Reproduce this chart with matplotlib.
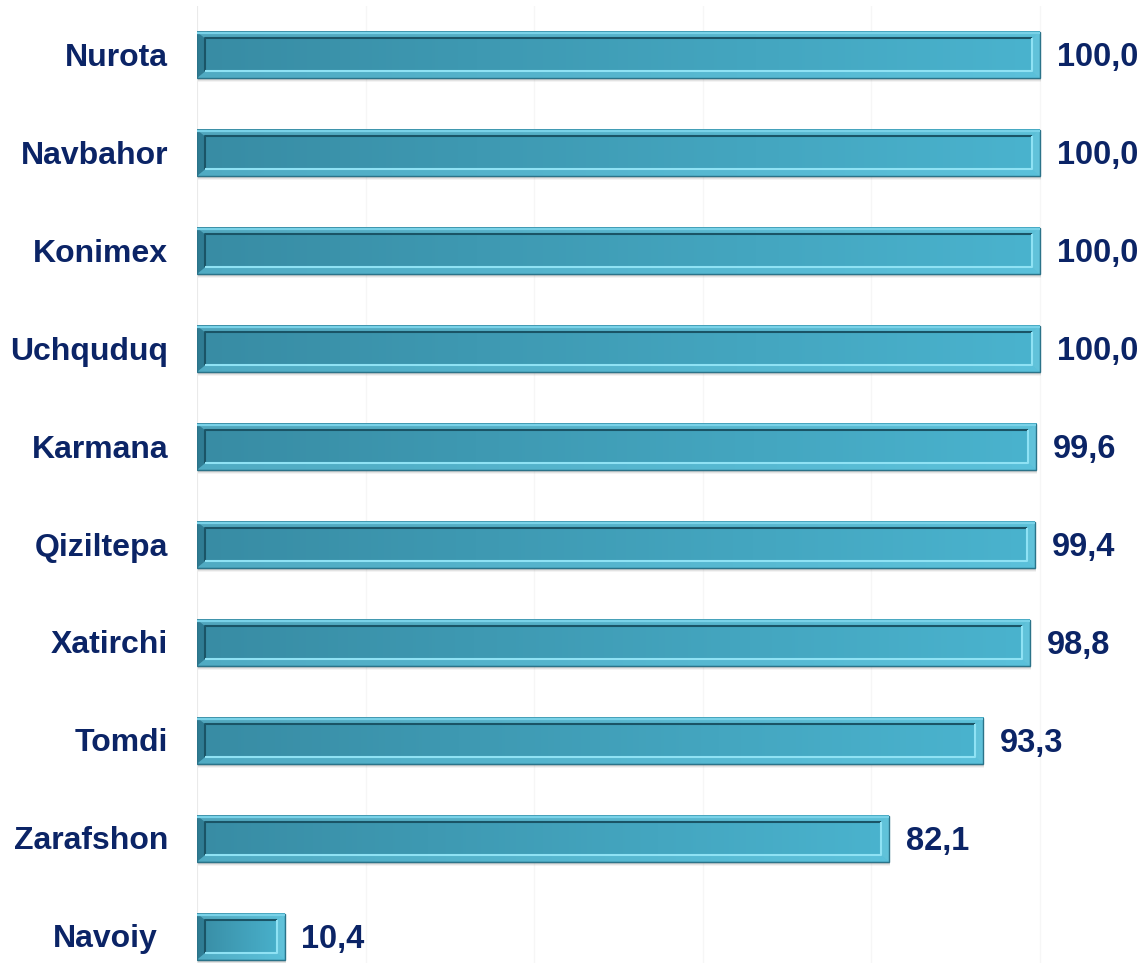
import numpy as np
import matplotlib.pyplot as plt
from matplotlib.colors import LinearSegmentedColormap
from matplotlib.patches import Polygon, Rectangle

# data, top to bottom
districts = ["Nurota", "Navbahor", "Konimex", "Uchquduq", "Karmana",
             "Qiziltepa", "Xatirchi", "Tomdi", "Zarafshon", "Navoiy"]
values = [100.0, 100.0, 100.0, 100.0, 99.6, 99.4, 98.8, 93.3, 82.1, 10.4]
value_labels = ["100,0", "100,0", "100,0", "100,0", "99,6",
                "99,4", "98,8", "93,3", "82,1", "10,4"]

plt.rcParams['font.family'] = ['Liberation Sans', 'DejaVu Sans']
text_color = "#0b2466"

fig = plt.figure(figsize=(11.41, 9.63), dpi=100)
ax = fig.add_axes([197 / 1141, 0.0, 944 / 1141, 1 - 6 / 963])

ypos = np.arange(len(districts))
bar_h = 0.47
bars = ax.barh(ypos, values, height=bar_h, color="none", edgecolor="none", zorder=3)

xmax = 112.0
ymin, ymax = 9.27, -0.5
ax.set_xlim(0, xmax)
ax.set_ylim(ymin, ymax)

# pixel -> data conversions for the bevel
px_x = xmax / 944.0
px_y = (ymin - ymax) / (963 - 6)
dx = 8 * px_x
dy = 6.5 * px_y

grad = LinearSegmentedColormap.from_list("bar", ["#388ca4", "#4ab3ce"])

for rect in bars.patches:
    x0 = rect.get_x()
    x1 = x0 + rect.get_width()
    yt = rect.get_y()              # visual top (y axis inverted)
    yb = yt + rect.get_height()    # visual bottom

    # soft drop shadow
    for k, a in zip([4, 3, 2], [0.06, 0.09, 0.12]):
        ax.add_patch(Rectangle((x0 + 1 * px_x, yt + k * px_y), x1 - x0, yb - yt,
                               facecolor="#404040", edgecolor="none",
                               alpha=a, zorder=2))

    # gradient face
    g = np.linspace(0, 1, 256).reshape(1, -1)
    ax.imshow(g, cmap=grad, extent=(x0, x1, yb, yt), aspect="auto",
              interpolation="bilinear", zorder=3)

    # bevels
    top = Polygon([(x0, yt), (x1, yt), (x1 - dx, yt + dy), (x0 + dx, yt + dy)],
                  facecolor="#7fd8ec", alpha=0.35, edgecolor="none", zorder=4)
    bottom = Polygon([(x0, yb), (x1, yb), (x1 - dx, yb - dy), (x0 + dx, yb - dy)],
                     facecolor="#6fd2ea", alpha=0.45, edgecolor="none", zorder=4)
    left = Polygon([(x0, yt), (x0 + dx, yt + dy), (x0 + dx, yb - dy), (x0, yb)],
                   facecolor="#1f5f74", alpha=0.35, edgecolor="none", zorder=4)
    right = Polygon([(x1, yt), (x1 - dx, yt + dy), (x1 - dx, yb - dy), (x1, yb)],
                    facecolor="#8de0f2", alpha=0.35, edgecolor="none", zorder=4)
    for p in (top, bottom, left, right):
        ax.add_patch(p)

    # outer outline and top highlight
    ax.add_patch(Rectangle((x0, yt), x1 - x0, yb - yt, facecolor="none",
                           edgecolor="#2b7389", lw=1.0, zorder=5))
    ax.plot([x0, x1], [yt + 1.2 * px_y, yt + 1.2 * px_y], color="#79d2e8",
            lw=1.6, zorder=5, solid_capstyle="butt")

    # inner edges: dark top/left, light bottom/right
    ax.plot([x0 + dx, x0 + dx, x1 - dx], [yb - dy, yt + dy, yt + dy],
            color="#1a5466", lw=1.5, zorder=6, solid_capstyle="butt")
    ax.plot([x0 + dx, x1 - dx, x1 - dx], [yb - dy, yb - dy, yt + dy],
            color="#8fe2f4", lw=1.5, zorder=6, solid_capstyle="butt")

# value labels
for y, v, lab in zip(ypos, values, value_labels):
    ax.annotate(lab, (v, y), xytext=(12, -2), textcoords="offset points",
                ha="left", va="center", fontsize=23.5, fontweight="bold",
                color=text_color, zorder=7, annotation_clip=False)

# category labels
for y, name in zip(ypos, districts):
    shift = -29 if name != "Navoiy" else -39
    ax.annotate(name, (0, y), xytext=(shift * 0.72, -2), textcoords="offset points",
                ha="right", va="center", fontsize=23, fontweight="bold",
                color=text_color, annotation_clip=False)

ax.set_xticks([0, 20, 40, 60, 80, 100])
ax.set_yticks([])
ax.tick_params(axis="x", length=0, labelbottom=False)
ax.grid(axis="x", color="#f6f6f6", lw=1.0, zorder=0)
ax.set_axisbelow(True)
for s in ax.spines.values():
    s.set_visible(False)
ax.axvline(0, color="#e8e8e8", lw=1.2, zorder=1)

fig.savefig("out.png", dpi=100)
